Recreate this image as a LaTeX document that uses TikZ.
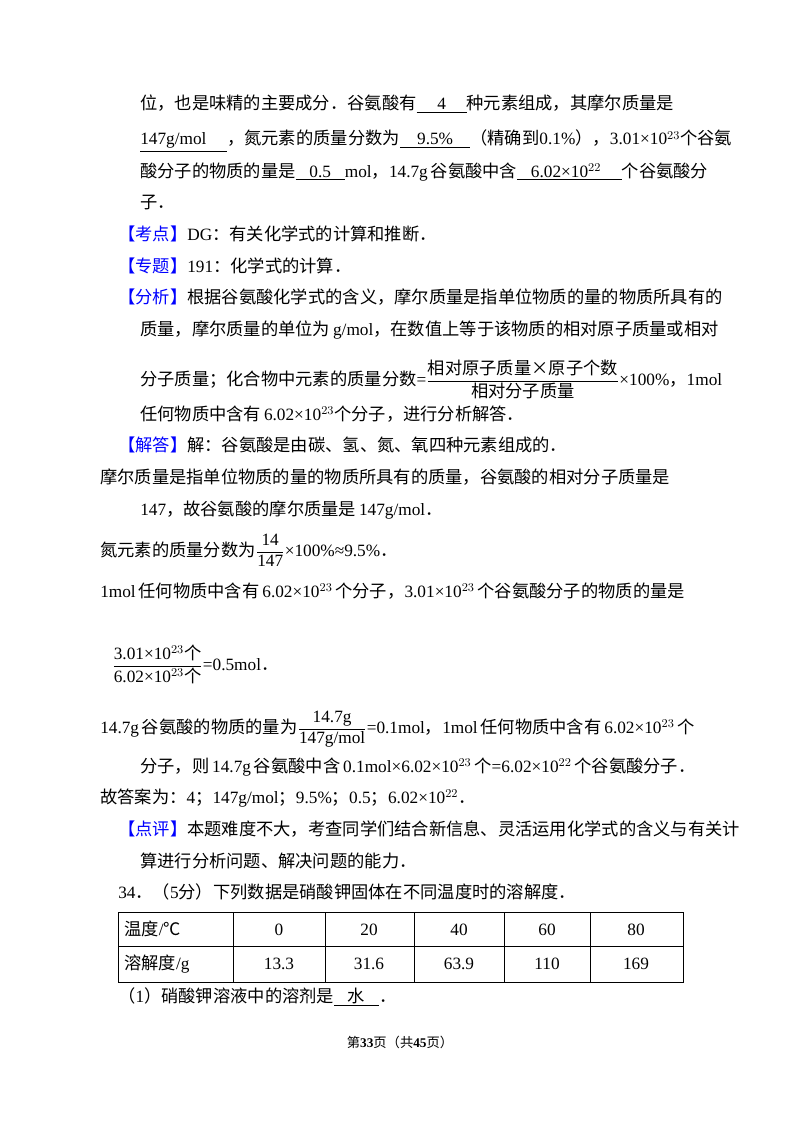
\documentclass[tikz,border=0pt]{standalone}
\usepackage{amsmath}
\usepackage{fontspec}
\setmainfont{Liberation Serif}
\newfontfamily\cjk{Noto Sans CJK SC}
\newcommand\zh[1]{{\cjk #1}}
\newcommand\hd[1]{\textcolor{blue}{\zh{【#1】}}}
\newcommand\ul[1]{\underline{#1}}
\newcommand\sci[1]{$^{#1}$}
\begin{document}
\begin{tikzpicture}[x=0.02646cm,y=-0.02646cm,
    line/.style={anchor=base west,inner sep=0pt,font=\fontsize{13}{15}\selectfont},
    cell/.style={anchor=base,inner sep=0pt,font=\fontsize{13}{15}\selectfont}]
  \useasboundingbox[fill=white] (0,0) rectangle (800,1132);
  % paragraph continued from previous page
  \node[line] (l1) at (140,110) {\zh{位，也是味精的主要成分．谷氨酸有}\ul{\hspace{1.2em}4\hspace{1.2em}}\zh{种元素组成，其摩尔质量是}};
  \node[line] (l2) at (140,145) {\ul{147g/mol\hspace{1.2em}}\zh{，氮元素的质量分数为}\ul{\hspace{1em}9.5\%\hspace{1em}}\zh{（精确到}0.1\%\zh{），}3.01×10\sci{23}\zh{个谷氨}};
  \node[line] (l3) at (140,177) {\zh{酸分子的物质的量是}\ul{\hspace{0.8em}0.5\hspace{0.8em}}mol\zh{，}14.7g\,\zh{谷氨酸中含}\ul{\hspace{0.8em}6.02×10\sci{22}\hspace{1.2em}}\zh{个谷氨酸分}};
  \node[line] (l4) at (140,208) {\zh{子．}};
  \node[line] (kd) at (118,240) {\hd{考点}DG\zh{：有关化学式的计算和推断．}};
  \node[line] (zt) at (118,272) {\hd{专题}191\zh{：化学式的计算．}};
  \node[line] (fx1) at (118,303) {\hd{分析}\zh{根据谷氨酸化学式的含义，摩尔质量是指单位物质的量的物质所具有的}};
  \node[line] (fx2) at (140,335) {\zh{质量，摩尔质量的单位为}\,g/mol\zh{，在数值上等于该物质的相对原子质量或相对}};
  \node[line] (fx3) at (140,385) {\zh{分子质量；化合物中元素的质量分数}=$\dfrac{\hbox{\zh{相对原子质量×原子个数}}}{\hbox{\zh{相对分子质量}}}$×100\%\zh{，}1mol};
  \node[line] (fx4) at (140,420) {\zh{任何物质中含有}\,6.02×10\sci{23}\zh{个分子，进行分析解答．}};
  \node[line] (jd1) at (118,451) {\hd{解答}\zh{解：谷氨酸是由碳、氢、氮、氧四种元素组成的．}};
  \node[line] (jd2) at (100,483) {\zh{摩尔质量是指单位物质的量的物质所具有的质量，谷氨酸的相对分子质量是}};
  \node[line] (jd3) at (140,515) {147\zh{，故谷氨酸的摩尔质量是}\,147g/mol\zh{．}};
  \node[line] (jd4) at (100,556) {\zh{氮元素的质量分数为}$\dfrac{\hbox{14}}{\hbox{147}}$×100\%≈9.5\%\zh{．}};
  \node[line] (jd5) at (100,597) {1mol\,\zh{任何物质中含有}\,6.02×10\sci{23}\,\zh{个分子，}3.01×10\sci{23}\,\zh{个谷氨酸分子的物质的量是}};
  \node[line] (jd6) at (112,670) {$\dfrac{\hbox{3.01×10\sci{23}\zh{个}}}{\hbox{6.02×10\sci{23}\zh{个}}}$=0.5mol\zh{．}};
  \node[line] (jd7) at (100,733) {14.7g\,\zh{谷氨酸的物质的量为}$\dfrac{\hbox{14.7g}}{\hbox{147g/mol}}$=0.1mol\zh{，}1mol\,\zh{任何物质中含有}\,6.02×10\sci{23}\,\zh{个}};
  \node[line] (jd8) at (140,772) {\zh{分子，则}\,14.7g\,\zh{谷氨酸中含}\,0.1mol×6.02×10\sci{23}\,\zh{个}=6.02×10\sci{22}\,\zh{个谷氨酸分子．}};
  \node[line] (ans) at (100,803) {\zh{故答案为：}4\zh{；}147g/mol\zh{；}9.5\%\zh{；}0.5\zh{；}6.02×10\sci{22}\zh{．}};
  \node[line] (dp1) at (118,835) {\hd{点评}\zh{本题难度不大，考查同学们结合新信息、灵活运用化学式的含义与有关计}};
  \node[line] (dp2) at (140,867) {\zh{算进行分析问题、解决问题的能力．}};
  \node[line] (q34) at (118,898) {34\zh{．（}5\zh{分）下列数据是硝酸钾固体在不同温度时的溶解度．}};
  % table
  \draw[line width=0.6pt] (118,912) rectangle (683,982);
  \draw[line width=0.6pt] (118,946) -- (683,946);
  \foreach \x in {233,325,414,504,590}
    \draw[line width=0.6pt] (\x,912) -- (\x,982);
  \node[line] (th) at (124,935) {\zh{温度}/\zh{℃}};
  \node[line] (tr) at (124,969) {\zh{溶解度}/g};
  \foreach \t/\s/\x in {0/13.3/279,20/31.6/369,40/63.9/459,60/110/547,80/169/636}{
    \node[cell] (t\t) at (\x,935) {\t};
    \node[cell] (s\t) at (\x,969) {\s};
  }
  \node[line] (q1) at (118,1002) {\zh{（}1\zh{）硝酸钾溶液中的溶剂是}\ul{\hspace{0.8em}\zh{水}\hspace{0.8em}}\zh{．}};
  % footer
  \node[cell,font=\fontsize{10}{12}\selectfont] (pg) at (400,1047) {\zh{第}\textbf{33}\zh{页（共}\textbf{45}\zh{页）}};
\end{tikzpicture}
\end{document}
